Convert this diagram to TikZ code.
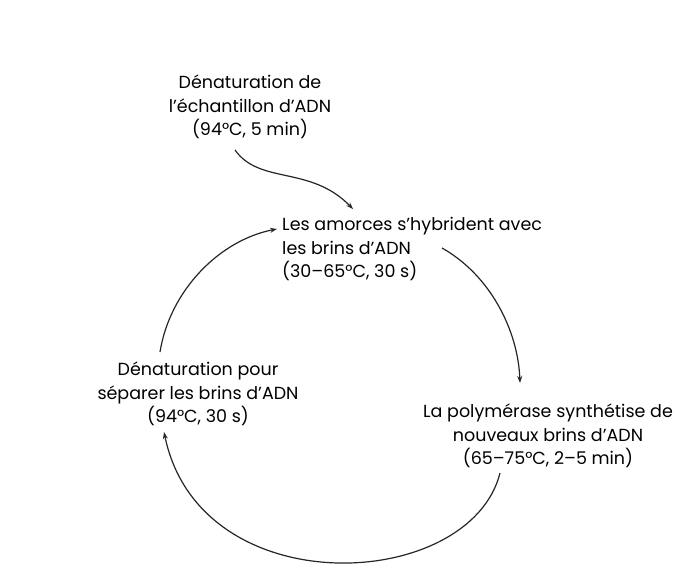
\documentclass[tikz,border=0pt]{standalone}
\usepackage{fontspec}
\setmainfont{Poppins}
\usetikzlibrary{arrows.meta}
\tikzset{
  lbl/.style={font=\fontsize{17.5}{23.5}\selectfont, inner sep=0pt, text=black},
  conn/.style={line width=1.2pt, black!85, -{Stealth[length=7pt,width=5pt]}}
}
\begin{document}
\begin{tikzpicture}[x=1pt,y=-1pt]
\useasboundingbox (0,0) rectangle (699,563);
\fill[white] (0,0) rectangle (699,563);
\node[lbl, align=center] (top) at (250,107) {Dénaturation de\\l’échantillon d’ADN\\(94°C, 5 min)};
\node[lbl, align=left, anchor=west] (hyb) at (282,249) {Les amorces s’hybrident avec\\les brins d’ADN\\(30–65°C, 30 s)};
\node[lbl, align=center] (den) at (198,394) {Dénaturation pour\\séparer les brins d’ADN\\(94°C, 30 s)};
\node[lbl, align=center] (pol) at (548,436) {La polymérase synthétise de\\nouveaux brins d’ADN\\(65–75°C, 2–5 min)};
\coordinate (a0) at (235,150);
\coordinate (a1) at (353,209);
\coordinate (b0) at (442,248);
\coordinate (b1) at (520,383);
\coordinate (c0) at (500,473);
\coordinate (c1) at (164,432);
\coordinate (d0) at (160,352);
\coordinate (d1) at (277,229);
\draw[conn] (a0) .. controls (260,185) and (310,165) .. (a1);
\draw[conn] (b0) .. controls (490,275) and (518,330) .. (b1);
\draw[conn] (c0) .. controls (470,592) and (200,606) .. (c1);
\draw[conn] (d0) .. controls (170,290) and (220,240) .. (d1);
\end{tikzpicture}
\end{document}
